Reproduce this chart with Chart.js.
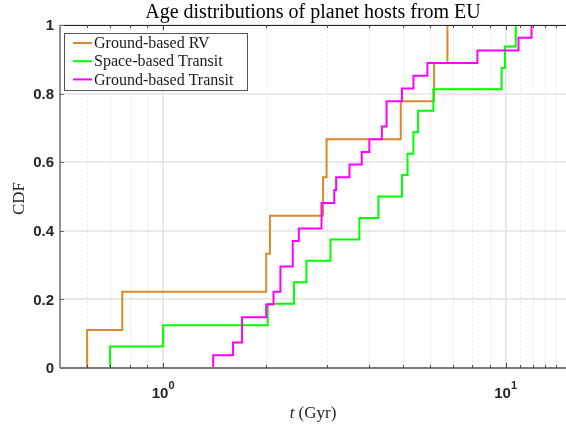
<!DOCTYPE html>
<html>
<head>
<meta charset="utf-8">
<script src="https://cdn.jsdelivr.net/npm/chart.js@4"></script>
<style>
  html, body { margin: 0; padding: 0; background: #fff; }
  #wrap { width: 566px; height: 426px; }
</style>
</head>
<body>
<div id="wrap"><canvas id="cdfChart" width="566" height="426"></canvas></div>
<script>
// Age CDFs of planet hosts

// DATA
// ============================================================
const SERIES_NAMES = ['Ground-based RV', 'Space-based Transit', 'Ground-based Transit'];

// Ground-based RV: step positions (Gyr) and CDF level after each step
const rvAge = [0.60, 0.76, 2.00, 2.05, 2.93, 3.00, 4.94, 6.18, 6.76];
const rvCdf = [0.111, 0.222, 0.333, 0.444, 0.556, 0.667, 0.778, 0.889, 1.0];

// Space-based Transit
const sbAge = [0.70, 1.00, 2.02, 2.41, 2.62, 3.08, 3.74, 4.25, 4.98, 5.17, 5.38, 5.55, 6.15, 9.73, 9.95, 10.7];
const sbCdf = [0.0625, 0.125, 0.1875, 0.25, 0.3125, 0.375, 0.4375, 0.5, 0.5625, 0.625, 0.6875, 0.75, 0.8125, 0.875, 0.9375, 1.0];

// Ground-based Transit
const gtAge = [1.40, 1.60, 1.70, 2.00, 2.10, 2.20, 2.39, 2.49, 2.90, 3.16, 3.20, 3.50, 3.80, 4.00, 4.35, 4.49, 4.98, 5.38, 5.91, 8.27, 10.9, 11.9];
const gtCdf = [0.037, 0.074, 0.148, 0.185, 0.222, 0.296, 0.370, 0.407, 0.481, 0.519, 0.556, 0.593, 0.630, 0.667, 0.704, 0.778, 0.815, 0.852, 0.889, 0.926, 0.963, 1.0];

// Axis ticks
const xMajor = [1, 10];
const xMajorLabels = ['0', '1'];           // exponents of 10
const xMinor = [0.6, 0.7, 0.8, 0.9, 2, 3, 4, 5, 6, 7, 8, 9, 11, 12, 13, 14];
const yTicks = [0, 0.2, 0.4, 0.6, 0.8, 1];
const yLabels = ['0', '0.2', '0.4', '0.6', '0.8', '1'];

// STYLE
// ============================================================
const COLORS = ['#d9892a', '#00ff00', '#ff00ff'];
const SERIF = "'Liberation Serif', 'Times New Roman', serif";
const SANS = "'Liberation Sans', Arial, sans-serif";

// build stair points: start at zero, then (age, level) pairs
function stairs(ages, levels) {
  const pts = [{ x: ages[0], y: 0 }];
  ages.forEach((a, i) => pts.push({ x: a, y: levels[i] }));
  return pts;
}

// FRAME PLUGIN: grid, axes, ticks, labels, legend, title
// ============================================================
const framePlugin = {
  id: 'frame',
  beforeDatasetsDraw(chart) {
    const { ctx, chartArea: a, scales: { x, y } } = chart;
    ctx.save();
    // minor x grid (dotted)
    ctx.strokeStyle = '#d4d4d4';
    ctx.lineWidth = 1;
    ctx.setLineDash([1, 3]);
    xMinor.forEach(v => {
      const px = Math.round(x.getPixelForValue(v)) + 0.5;
      ctx.beginPath(); ctx.moveTo(px, a.top); ctx.lineTo(px, a.bottom); ctx.stroke();
    });
    ctx.setLineDash([]);
    // major grid (solid)
    ctx.strokeStyle = '#e3e3e3';
    ctx.lineWidth = 1.5;
    xMajor.forEach(v => {
      const px = Math.round(x.getPixelForValue(v));
      ctx.beginPath(); ctx.moveTo(px, a.top); ctx.lineTo(px, a.bottom); ctx.stroke();
    });
    yTicks.forEach(v => {
      const py = Math.round(y.getPixelForValue(v));
      ctx.beginPath(); ctx.moveTo(a.left, py); ctx.lineTo(a.right, py); ctx.stroke();
    });
    ctx.restore();
  },
  afterDatasetsDraw(chart) {
    const { ctx, chartArea: a, scales: { x, y } } = chart;
    ctx.save();

    // axis lines
    ctx.strokeStyle = '#262626'; ctx.lineWidth = 1;
    ctx.beginPath(); ctx.moveTo(a.left, a.top + 0.5); ctx.lineTo(a.right, a.top + 0.5); ctx.stroke();
    ctx.strokeStyle = '#6b6b6b'; ctx.lineWidth = 1.5;
    ctx.beginPath(); ctx.moveTo(a.left, a.top); ctx.lineTo(a.left, a.bottom); ctx.stroke();
    ctx.strokeStyle = '#7a7a7a'; ctx.lineWidth = 2;
    ctx.beginPath(); ctx.moveTo(a.left, a.bottom); ctx.lineTo(a.right, a.bottom); ctx.stroke();

    // tick marks
    ctx.lineWidth = 1;
    ctx.strokeStyle = '#444';
    xMinor.concat(xMajor).forEach(v => {
      const px = Math.round(x.getPixelForValue(v)) + 0.5;
      const len = xMajor.includes(v) ? 5 : 3;
      ctx.beginPath(); ctx.moveTo(px, a.bottom); ctx.lineTo(px, a.bottom - len); ctx.stroke();
      ctx.beginPath(); ctx.moveTo(px, a.top); ctx.lineTo(px, a.top + len); ctx.stroke();
    });
    ctx.strokeStyle = '#6b6b6b';
    yTicks.forEach(v => {
      const py = Math.round(y.getPixelForValue(v)) + 0.5;
      ctx.beginPath(); ctx.moveTo(a.left, py); ctx.lineTo(a.left + 4, py); ctx.stroke();
    });

    // y tick labels
    ctx.fillStyle = '#262626';
    ctx.font = 'bold 15px ' + SANS;
    ctx.textAlign = 'right';
    ctx.textBaseline = 'middle';
    yTicks.forEach((v, i) => ctx.fillText(yLabels[i], a.left - 6, y.getPixelForValue(v) + 1));

    // x tick labels: 10^k
    ctx.textBaseline = 'alphabetic';
    ctx.textAlign = 'left';
    xMajor.forEach((v, i) => {
      const px = x.getPixelForValue(v);
      ctx.font = 'bold 15px ' + SANS;
      const wBase = ctx.measureText('10').width;
      ctx.font = 'bold 11px ' + SANS;
      const wExp = ctx.measureText(xMajorLabels[i]).width;
      const x0 = px - (wBase + wExp) / 2;
      ctx.font = 'bold 15px ' + SANS;
      ctx.fillText('10', x0, a.bottom + 30);
      ctx.font = 'bold 11px ' + SANS;
      ctx.fillText(xMajorLabels[i], x0 + wBase, a.bottom + 21);
    });

    // axis titles
    ctx.fillStyle = '#262626';
    ctx.font = 'italic 17px ' + SERIF;
    const tW = ctx.measureText('t').width;
    ctx.font = '17px ' + SERIF;
    const rest = ' (Gyr)';
    const rW = ctx.measureText(rest).width;
    const cx = (a.left + a.right) / 2;
    const lx = cx - (tW + rW) / 2;
    ctx.font = 'italic 17px ' + SERIF;
    ctx.fillText('t', lx, 418);
    ctx.font = '17px ' + SERIF;
    ctx.fillText(rest, lx + tW, 418);

    ctx.save();
    ctx.translate(24, (a.top + a.bottom) / 2 + 2);
    ctx.rotate(-Math.PI / 2);
    ctx.textAlign = 'center';
    ctx.fillText('CDF', 0, 0);
    ctx.restore();

    // title
    ctx.font = '20px ' + SERIF;
    ctx.textAlign = 'center';
    ctx.fillStyle = '#000';
    ctx.fillText('Age distributions of planet hosts from EU', cx, 18);

    // legend
    const lg = { x: 64, y: 33, w: 183, h: 57 };
    ctx.fillStyle = '#fff';
    ctx.fillRect(lg.x, lg.y, lg.w, lg.h);
    ctx.strokeStyle = '#555';
    ctx.lineWidth = 1;
    ctx.strokeRect(lg.x + 0.5, lg.y + 0.5, lg.w, lg.h);
    ctx.font = '16px ' + SERIF;
    ctx.textAlign = 'left';
    ctx.textBaseline = 'middle';
    SERIES_NAMES.forEach((name, i) => {
      const ly = 43 + i * 18.2;
      ctx.strokeStyle = COLORS[i];
      ctx.lineWidth = 2;
      ctx.beginPath(); ctx.moveTo(73, ly); ctx.lineTo(92, ly); ctx.stroke();
      ctx.fillStyle = '#1a1a1a';
      ctx.fillText(name, 94, ly + 1);
    });

    ctx.restore();
  }
};

// CHART
// ============================================================
const ageSets = [rvAge, sbAge, gtAge];
const cdfSets = [rvCdf, sbCdf, gtCdf];

new Chart(document.getElementById('cdfChart'), {
  type: 'line',
  data: {
    datasets: SERIES_NAMES.map((name, i) => ({
      label: name,
      data: stairs(ageSets[i], cdfSets[i]),
      borderColor: COLORS[i],
      borderWidth: 2,
      stepped: 'before',
      pointRadius: 0,
      fill: false,
      order: 2 - i   // later series drawn on top
    }))
  },
  options: {
    responsive: false,
    animation: false,
    layout: { padding: { left: 60, top: 25, right: 0, bottom: 58 } },
    scales: {
      x: { type: 'logarithmic', min: 0.5, max: 15, display: false },
      y: { type: 'linear', min: 0, max: 1, display: false }
    },
    plugins: {
      legend: { display: false },
      title: { display: false },
      tooltip: { enabled: false }
    }
  },
  plugins: [framePlugin]
});
</script>
</body>
</html>
